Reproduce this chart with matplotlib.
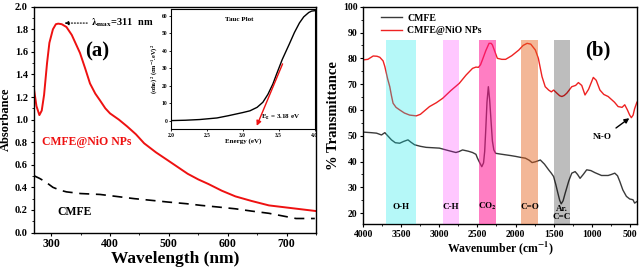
import matplotlib
matplotlib.use("Agg")
import matplotlib.pyplot as plt
from matplotlib.ticker import MultipleLocator

plt.rcParams["font.family"] = ["Liberation Serif", "DejaVu Serif"]
plt.rcParams["font.weight"] = "bold"
plt.rcParams["mathtext.fontset"] = "stix"

# UV-Vis (panel a)
uv_nio_wl = [270, 275, 280, 284, 288, 293, 297, 303, 308, 312, 318, 326, 335, 349, 358, 366,
             375, 383, 392, 400, 415, 429, 444, 458, 478, 498, 515, 532, 550, 567, 590, 613,
             640, 670, 710, 750]
uv_nio_abs = [1.30, 1.12, 1.04, 1.08, 1.22, 1.50, 1.68, 1.80, 1.845, 1.85, 1.845, 1.82, 1.75,
              1.59, 1.45, 1.32, 1.23, 1.17, 1.10, 1.055, 1.00, 0.94, 0.87, 0.79, 0.71, 0.64,
              0.58, 0.52, 0.47, 0.43, 0.37, 0.32, 0.28, 0.24, 0.215, 0.19]
uv_cmfe_wl = [270, 280, 290, 303, 315, 326, 350, 383, 410, 441, 470, 498, 530, 555, 585, 613,
              640, 670, 695, 716, 748]
uv_cmfe_abs = [0.505, 0.48, 0.45, 0.40, 0.375, 0.36, 0.345, 0.337, 0.32, 0.30, 0.285, 0.27,
               0.255, 0.24, 0.225, 0.21, 0.19, 0.17, 0.145, 0.124, 0.124]

# Tauc plot (inset)
tauc_e = [2.0, 2.2, 2.4, 2.64, 2.8, 3.0, 3.1, 3.2, 3.28, 3.35, 3.42, 3.47, 3.55, 3.65, 3.72,
          3.79, 3.85, 3.92, 3.96, 4.0]
tauc_y = [0.0, 0.2, 0.6, 1.5, 2.8, 4.6, 5.6, 7.6, 10.5, 15.0, 21.0, 26.5, 35.0, 44.0, 50.5,
          56.0, 59.5, 62.0, 62.8, 63.0]

# FTIR (panel b)
ft_nio_wn = [4000, 3940, 3870, 3820, 3783, 3740, 3717, 3680, 3652, 3630, 3609, 3570, 3522,
             3460, 3391, 3304, 3250, 3130, 3040, 2957, 2850, 2739, 2650, 2565, 2520, 2487,
             2460, 2435, 2390, 2348, 2320, 2304, 2270, 2239, 2180, 2130, 2050, 1957, 1900,
             1848, 1800, 1739, 1700, 1652, 1610, 1565, 1530, 1500, 1457, 1420, 1391, 1360,
             1326, 1261, 1210, 1174, 1130, 1087, 1040, 978, 940, 891, 840, 783, 700, 652,
             600, 565, 530, 500, 478, 455, 435, 405]
ft_nio_t = [79.4, 79.6, 80.9, 80.8, 80.4, 79.0, 76.8, 72.0, 69.0, 65.5, 62.6, 61.0, 60.0,
            58.8, 58.0, 57.7, 58.3, 61.3, 62.8, 64.5, 67.5, 70.3, 73.5, 76.1, 76.6, 76.5,
            77.5, 79.4, 83.0, 85.8, 85.8, 85.2, 82.5, 80.0, 79.6, 79.6, 81.0, 83.2, 85.0,
            85.8, 85.5, 83.2, 80.0, 72.9, 69.0, 67.7, 67.0, 67.7, 66.5, 65.5, 65.2, 65.6,
            66.5, 69.0, 69.5, 70.6, 69.5, 65.8, 68.0, 72.6, 71.5, 67.7, 66.0, 65.2, 63.0,
            61.3, 61.0, 62.0, 60.0, 58.0, 57.0, 58.0, 60.5, 63.0]
ft_cmfe_wn = [4000, 3900, 3826, 3761, 3717, 3680, 3630, 3580, 3522, 3470, 3413, 3370, 3326,
              3250, 3174, 3000, 2913, 2850, 2783, 2740, 2696, 2620, 2565, 2520, 2500, 2470,
              2443, 2420, 2405, 2390, 2375, 2357, 2340, 2320, 2304, 2285, 2261, 2200, 2130,
              2060, 2000, 1930, 1870, 1820, 1783, 1740, 1674, 1620, 1565, 1530, 1500, 1470,
              1443, 1420, 1400, 1375, 1348, 1300, 1261, 1217, 1185, 1152, 1110, 1065, 1010,
              957, 870, 783, 740, 696, 660, 630, 590, 543, 500, 457, 435, 405]
ft_cmfe_t = [51.4, 51.2, 51.0, 50.3, 51.2, 50.0, 48.4, 47.3, 47.1, 47.8, 48.4, 47.4, 46.5,
             45.9, 45.5, 45.2, 44.5, 44.0, 43.5, 43.9, 44.5, 44.0, 43.5, 42.8, 41.3, 39.5,
             38.0, 39.5, 44.0, 53.0, 63.0, 69.0, 64.0, 55.0, 48.0, 44.5, 43.2, 42.9, 42.6,
             42.3, 42.0, 41.6, 41.3, 40.5, 39.6, 39.9, 40.6, 39.0, 36.8, 35.5, 34.2, 31.0,
             27.7, 25.0, 23.6, 24.8, 27.7, 32.5, 35.5, 36.1, 35.0, 33.5, 35.0, 36.8, 36.5,
             35.7, 34.6, 34.6, 35.0, 35.5, 34.5, 32.3, 29.0, 26.5, 25.5, 25.2, 23.9, 24.5]

band_labels = ["O-H", "C-H", "CO$_\\mathbf{2}$", "C=O", "Ar.\nC=C"]
band_lo = [3313, 2748, 2261, 1709, 1283]
band_hi = [3696, 2957, 2478, 1922, 1500]
# translucent shades laid over the curves
band_colors = ["#00e8e8", "#ff00ff", "#ff1493", "#e6601a", "#000000"]
band_alpha = [0.29, 0.22, 0.55, 0.45, 0.26]
band_label_x = [3500, 2848, 2370, 1813, 1391]

W, H = 640, 268
fig = plt.figure(figsize=(W / 100, H / 100), dpi=100)


def px_axes(x0, y0, x1, y1):
    # pixel box (left, top, right, bottom) -> figure fraction
    return fig.add_axes([x0 / W, 1 - y1 / H, (x1 - x0) / W, (y1 - y0) / H])


def style_ticks(ax, size=7.5):
    ax.tick_params(labelsize=size, length=2.5, width=0.8, pad=1.5)
    ax.tick_params(which="minor", length=1.5, width=0.6)
    for s in ax.spines.values():
        s.set_linewidth(1.0)


# ---- panel (a)
ax1 = px_axes(33.5, 6.7, 316, 232.5)
ax1.plot(uv_nio_wl, uv_nio_abs, color="#ee1111", lw=1.4)
ax1.plot(uv_cmfe_wl, uv_cmfe_abs, color="black", lw=1.2, ls=(0, (6, 4)))
ax1.set_xlim(270, 750)
ax1.set_ylim(0, 2.0)
ax1.xaxis.set_major_locator(MultipleLocator(100))
ax1.xaxis.set_minor_locator(MultipleLocator(50))
ax1.yaxis.set_major_locator(MultipleLocator(0.2))
ax1.yaxis.set_minor_locator(MultipleLocator(0.1))
style_ticks(ax1)
ax1.tick_params(axis="x", labelsize=8.5)
ax1.set_xlabel("Wavelength (nm)", fontsize=12.5, fontweight="bold", labelpad=1)
ax1.set_ylabel("Absorbance", fontsize=9, fontweight="bold", labelpad=2)
ax1.text(284, 0.80, "CMFE@NiO NPs", color="#ee1111", fontsize=8.5, fontweight="bold",
         va="center")
ax1.text(311, 0.18, "CMFE", color="black", fontsize=8.5, fontweight="bold", va="center")
ax1.text(378, 1.60, "(a)", fontsize=15, fontweight="bold", ha="center", va="center")
ax1.annotate("", xy=(318, 1.855), xytext=(366, 1.855),
             arrowprops=dict(arrowstyle="-|>", ls=":", lw=0.8, color="black",
                             mutation_scale=6))
ax1.text(367, 1.855, "$\\mathbf{\\lambda_{max}}$=311  nm", fontsize=7.5, fontweight="bold",
         va="center")

# ---- inset Tauc plot
ax_in = px_axes(171, 9, 314.5, 129.3)
ax_in.plot(tauc_e, tauc_y, color="black", lw=1.0)
ax_in.annotate("", xy=(3.18, -4.5), xytext=(3.57, 34),
               arrowprops=dict(arrowstyle="-|>", color="#ee1111", lw=1.0,
                               mutation_scale=7))
ax_in.set_xlim(2.0, 4.0)
ax_in.set_ylim(-5, 64)
ax_in.xaxis.set_major_locator(MultipleLocator(0.5))
ax_in.yaxis.set_major_locator(MultipleLocator(10))
ax_in.tick_params(labelsize=4, length=1.5, width=0.6, pad=1)
ax_in.set_xlabel("Energy (eV)", fontsize=5, fontweight="bold", labelpad=0)
ax_in.set_ylabel("($\\mathbf{\\alpha h\\nu}$)$^\\mathbf{2}$ (cm$^\\mathbf{-1}$.eV)$^\\mathbf{2}$",
                 fontsize=4.5, fontweight="bold", labelpad=1)
ax_in.text(2.95, 58, "Tauc Plot", fontsize=5, fontweight="bold", ha="center", va="center")
ax_in.text(3.25, 1.5, "E$_\\mathbf{g}$ = 3.18 eV", fontsize=5, fontweight="bold",
           va="center")
for s in ax_in.spines.values():
    s.set_linewidth(0.8)

# ---- panel (b)
ax2 = px_axes(363.3, 6.7, 637.3, 224)
ax2.plot(ft_cmfe_wn, ft_cmfe_t, color="#3a3a3a", lw=1.0, label="CMFE")
ax2.plot(ft_nio_wn, ft_nio_t, color="#ee2222", lw=1.0, label="CMFE@NiO NPs")
for lo, hi, c, a in zip(band_lo, band_hi, band_colors, band_alpha):
    ax2.axvspan(lo, hi, ymin=0, ymax=(87.2 - 15.8) / (100 - 15.8), color=c, alpha=a,
                lw=0, zorder=3)
for x, lab in zip(band_label_x, band_labels):
    ax2.text(x, 22.5 if "\n" not in lab else 20.0, lab, fontsize=6.5, fontweight="bold",
             ha="center", va="center", linespacing=1.0, zorder=4)
ax2.set_xlim(4000, 400)
ax2.set_ylim(15.8, 100)
ax2.xaxis.set_major_locator(MultipleLocator(500))
ax2.xaxis.set_minor_locator(MultipleLocator(250))
ax2.yaxis.set_major_locator(MultipleLocator(10))
ax2.yaxis.set_minor_locator(MultipleLocator(5))
style_ticks(ax2, size=7)
ax2.set_xlabel("Wavenumber (cm$^\\mathbf{-1}$)", fontsize=8.5, fontweight="bold", labelpad=1)
ax2.set_ylabel("% Transmittance", fontsize=10.5, fontweight="bold", labelpad=2)
ax2.text(913, 83.2, "(b)", fontsize=15, fontweight="bold", ha="center", va="center")
ax2.text(860, 49.5, "Ni-O", fontsize=6.5, fontweight="bold", ha="center", va="center")
ax2.annotate("", xy=(505, 56.8), xytext=(680, 53.0),
             arrowprops=dict(arrowstyle="-|>", color="black", lw=1.0, mutation_scale=7,
                             shrinkA=0, shrinkB=0))
leg = ax2.legend(loc="upper left", bbox_to_anchor=(0.04, 1.0), fontsize=7, frameon=False,
                 handlelength=2.2, handletextpad=0.5, borderaxespad=0.3, labelspacing=0.4)
for t in leg.get_texts():
    t.set_fontweight("bold")

fig.savefig("out.png", dpi=100)
